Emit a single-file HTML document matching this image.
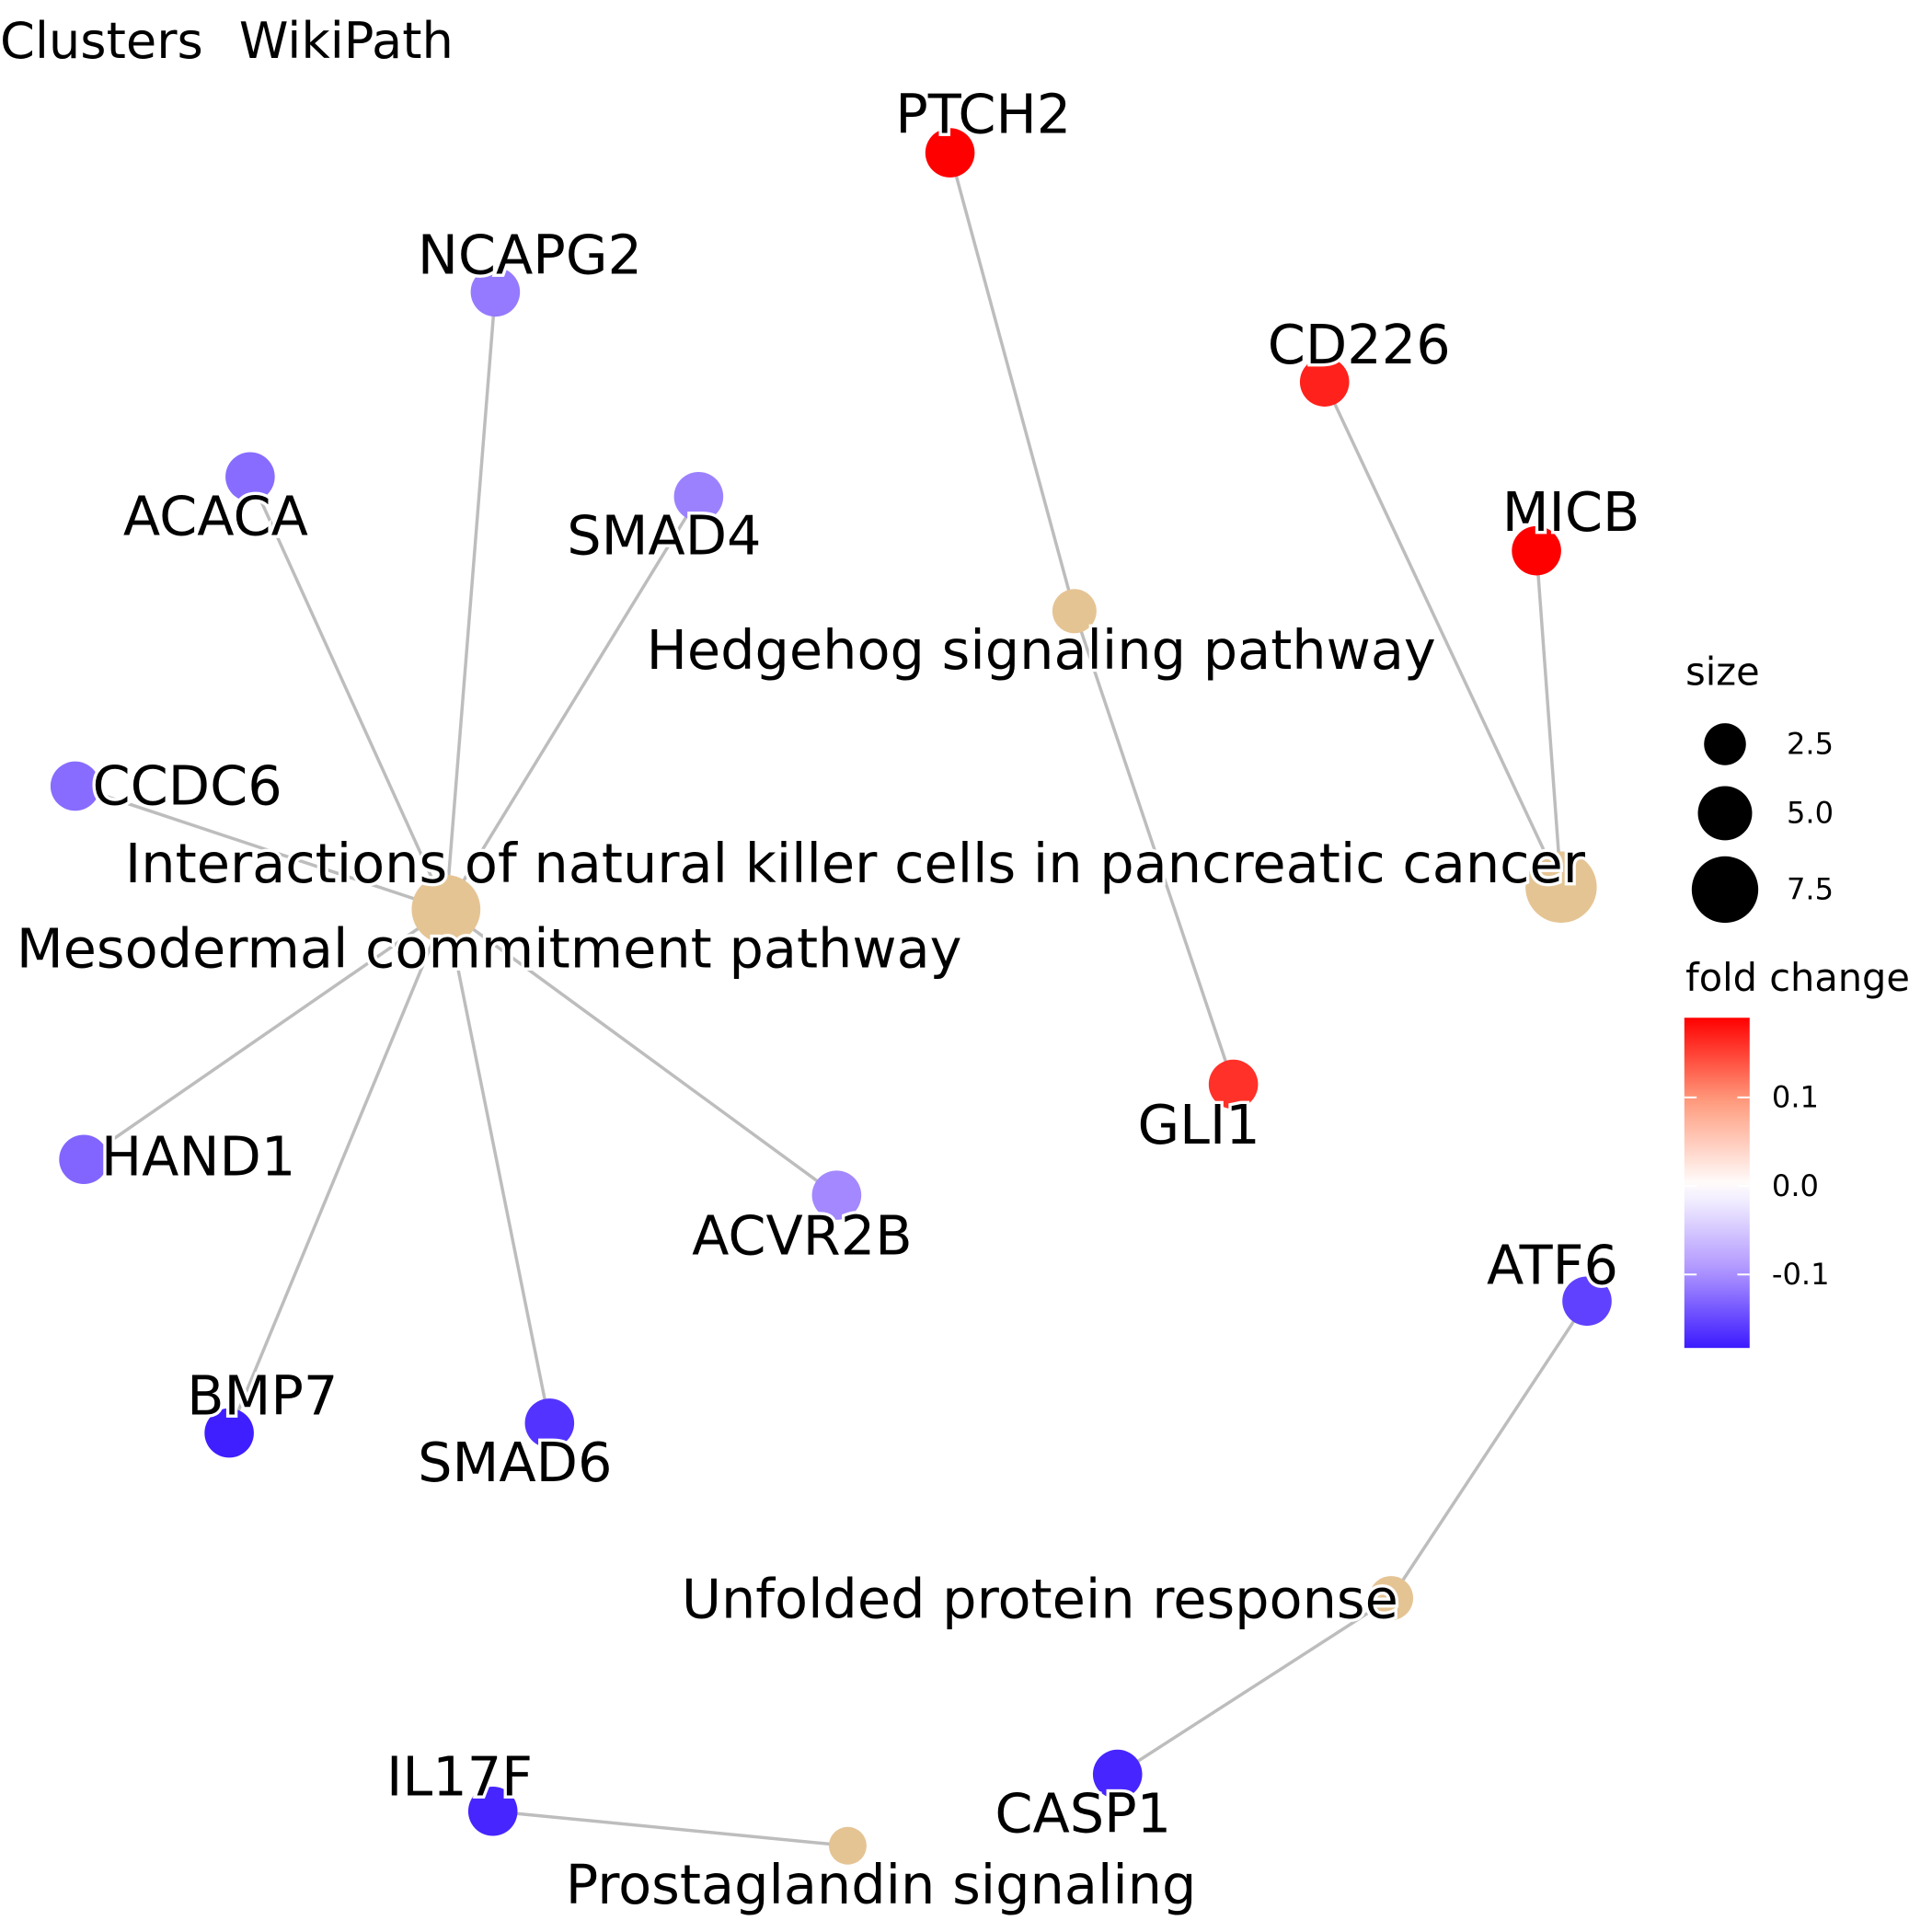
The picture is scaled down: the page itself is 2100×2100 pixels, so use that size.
<!DOCTYPE html>
<html><head><meta charset="utf-8"><style>
html,body{margin:0;padding:0;background:#fff}
svg{display:block}
text{font-family:"DejaVu Sans","Liberation Sans",sans-serif}
</style></head><body>
<svg id="chart" width="2100" height="2100" viewBox="0 0 1568 1568" xmlns="http://www.w3.org/2000/svg">
<rect width="1568" height="1568" fill="#fff"/>
<text x="0" y="47" font-size="40.5">Clusters</text>
<text x="194" y="47" font-size="40.5">WikiPath</text>
<g id="edges"></g><g id="nodes"></g><g id="labels"></g>
<g id="legend">
<text x="1368" y="556" font-size="31">size</text>
<text x="1368" y="804" font-size="31">fold change</text>
<defs><linearGradient id="cg" x1="0" y1="1" x2="0" y2="0"></linearGradient></defs>
<rect x="1367" y="826" width="53" height="268" fill="url(#cg)"/>
</g>
</svg>
<script>
const geneNames=["PTCH2","NCAPG2","CD226","ACACA","SMAD4","MICB","CCDC6","GLI1","HAND1","ACVR2B","ATF6","BMP7","SMAD6","CASP1","IL17F"];
const geneX=[771,402,1075,203,567,1247,61,1001,68,679,1288,186,446,907,400];
const geneY=[124,237,310,387,403,447,638,880,941,970,1056,1163,1155,1440,1470];
const geneFC=[0.19,-0.115,0.17,-0.125,-0.11,0.19,-0.125,0.16,-0.13,-0.105,-0.155,-0.18,-0.165,-0.175,-0.175];
const geneLabelX=[798,430,1103,175,539,1275,152,973,161,651,1260,213,418,879,373];
const geneLabelY=[108,222,295,434,450,431,653,928,954,1018,1042,1148,1202,1487,1457];
const catNames=["Hedgehog signaling pathway","Interactions of natural killer cells in pancreatic cancer","Mesodermal commitment pathway","Unfolded protein response","Prostaglandin signaling"];
const catX=[872,1267,362,1129,688];
const catY=[496,720,738,1297,1498];
const catSize=[2,10,9,2,1];
const catLabelX=[845,694,397,844,715];
const catLabelY=[543,716,785,1313,1545];
const edgeGene=["PTCH2","GLI1","CD226","MICB","NCAPG2","ACACA","SMAD4","CCDC6","HAND1","ACVR2B","BMP7","SMAD6","ATF6","CASP1","IL17F"];
const edgeCat=[0,0,1,1,2,2,2,2,2,2,2,2,3,3,4];
const sizeTicks=[2.5,5.0,7.5];
const sizeTickY=[604,660,722];
const colorTicks=[0.1,0.0,-0.1];

const NS="http://www.w3.org/2000/svg";
function mk(t,a,p){const e=document.createElementNS(NS,t);for(const k in a)e.setAttribute(k,a[k]);p.appendChild(e);return e;}
function rad(s){return 9+Math.sqrt(s)*6.3;}
const fcMin=-0.183,fcMax=0.19,barTop=826,barBot=1094;
function fcY(v){return barBot-(v-fcMin)/(fcMax-fcMin)*(barBot-barTop);}
function lerp(a,b,t){return a.map((x,i)=>Math.round(x+(b[i]-x)*t));}
function col(v){
  const W=[255,255,255];
  if(v>=0){const t=Math.min(1,v/0.19);return 'rgb('+(t<0.5?lerp(W,[255,156,126],t*2):lerp([255,156,126],[255,0,0],(t-0.5)*2))+')';}
  const t=Math.min(1,-v/0.19);return 'rgb('+(t<0.5?lerp(W,[176,150,255],t*2):lerp([176,150,255],[50,16,255],(t-0.5)*2))+')';
}
const E=document.getElementById('edges'),N=document.getElementById('nodes'),L=document.getElementById('labels'),G=document.getElementById('legend');
edgeGene.forEach((g,i)=>{const gi=geneNames.indexOf(g),c=edgeCat[i];
  const l=mk('line',{x1:geneX[gi],y1:geneY[gi],x2:catX[c],y2:catY[c],stroke:'#BDBDBD','stroke-width':2.6},E);
  
  
});
catNames.forEach((n,i)=>{
  const c=mk('circle',{cx:catX[i],cy:catY[i],r:rad(catSize[i]),fill:'#E5C494'},N);
  
  
  const t=mk('text',{x:catLabelX[i],y:catLabelY[i],'font-size':44,'text-anchor':'middle',stroke:'#fff','stroke-width':5,'paint-order':'stroke'},L);
  t.textContent=n;
  
  
});
geneNames.forEach((n,i)=>{
  const c=mk('circle',{cx:geneX[i],cy:geneY[i],r:20,fill:col(geneFC[i])},N);
  
  
  const t=mk('text',{x:geneLabelX[i],y:geneLabelY[i],'font-size':44,'text-anchor':'middle',stroke:'#fff','stroke-width':5,'paint-order':'stroke'},L);
  t.textContent=n;
  
  
});
sizeTicks.forEach((s,i)=>{
  const c=mk('circle',{cx:1400,cy:sizeTickY[i],r:17+i*5,fill:'#000'},G);
  
  
  const t=mk('text',{x:1450,y:sizeTickY[i]+8,'font-size':24},G);
  t.textContent=s.toFixed(1);
  
  
});
const gr=document.getElementById('cg');
for(let k=0;k<=20;k++){const v=fcMin+(fcMax-fcMin)*k/20;mk('stop',{offset:(k/20),'stop-color':col(v)},gr);}
colorTicks.forEach(v=>{const y=fcY(v);
  mk('line',{x1:1367,y1:y,x2:1377,y2:y,stroke:'#fff','stroke-width':1.5},G);
  mk('line',{x1:1410,y1:y,x2:1420,y2:y,stroke:'#fff','stroke-width':1.5},G);
  const t=mk('text',{x:1438,y:y+8,'font-size':24},G);
  t.textContent=v.toFixed(1);
  
  
});
</script>
</body></html>
